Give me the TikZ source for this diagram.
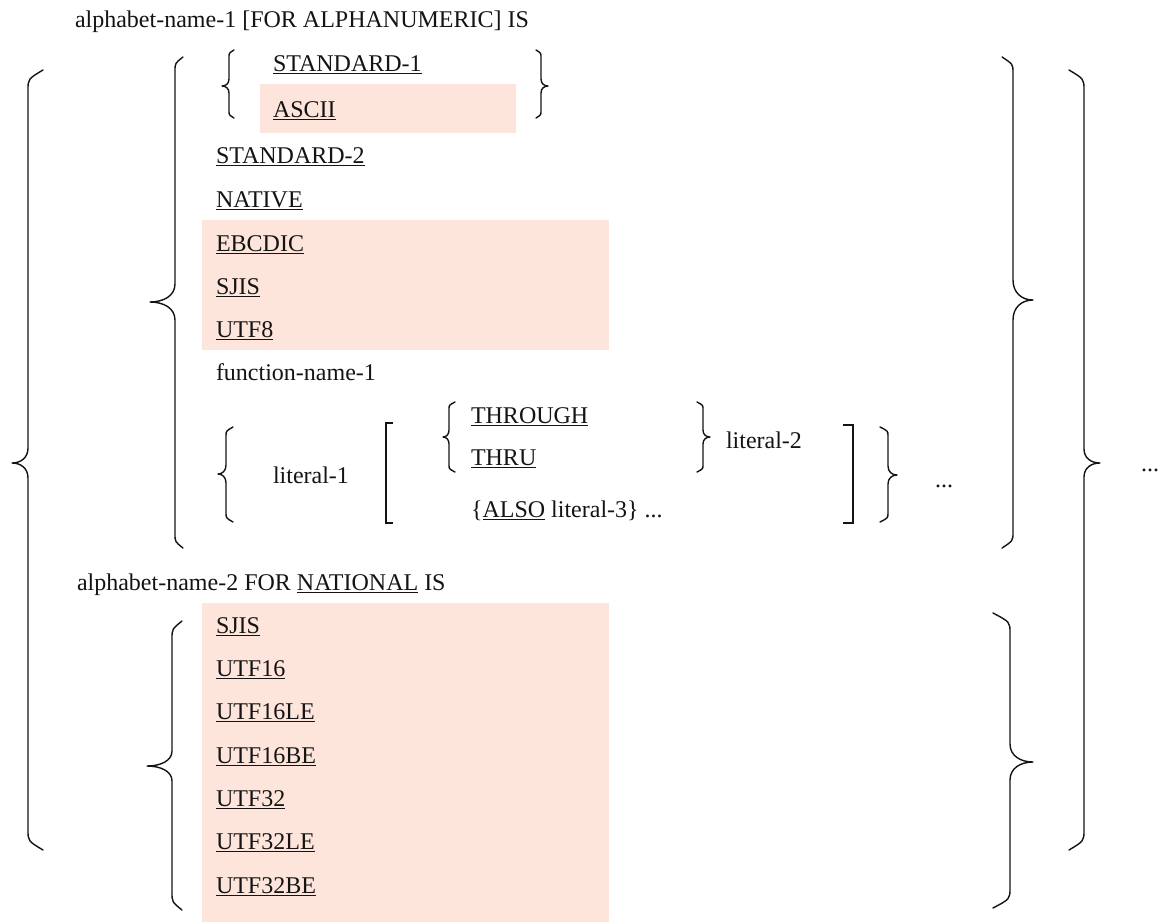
\documentclass[tikz,border=0pt]{standalone}
\usepackage{fontspec}
\setmainfont{Liberation Serif}
\definecolor{peach}{RGB}{253,229,219}
\definecolor{ink}{RGB}{20,20,20}
\newsavebox{\ULbox}
\newcommand{\UL}[1]{\sbox{\ULbox}{#1}\rlap{\rule[-3.4pt]{\wd\ULbox}{1.2pt}}\usebox{\ULbox}}
\tikzset{
  txt/.style={anchor=base west, inner sep=0pt, outer sep=0pt, font=\fontsize{24}{28}\selectfont, text=ink},
  brc/.style={draw=ink, line width=1.4pt, line join=round, line cap=round},
  brk/.style={draw=ink, line width=2.6pt},
  hl/.style={fill=peach, draw=none},
}
% #1 vertical x, #2 end x, #3 top y, #4 bottom y, #5 tip x, #6 tip y, #7 curl height, #8 half tip height
\newcommand{\Brace}[8]{%
  \draw[brc] (#2,#3) .. controls (#1,#3+0.45*#7) .. (#1,#3+#7)
    -- (#1,#6-#8) .. controls (#1,#6-0.35*#8) and (#5+0.55*#1-0.55*#5,#6) .. (#5,#6)
    .. controls (#5+0.55*#1-0.55*#5,#6) and (#1,#6+0.35*#8) .. (#1,#6+#8)
    -- (#1,#4-#7) .. controls (#1,#4-0.45*#7) .. (#2,#4);
}
\begin{document}
\begin{tikzpicture}[x=1pt,y=-1pt]
\useasboundingbox (0,0) rectangle (1165,922);
\fill[white] (0,0) rectangle (1165,922);
% highlights
\path[hl] (260,84) rectangle (516,133);
\path[hl] (202,220) rectangle (609,350);
\path[hl] (202,603) rectangle (609,922);
% texts
\node[txt] (t1) at (75,27) {alphabet-name-1 [FOR ALPHANUMERIC] IS};
\node[txt] (s1) at (273,71) {\UL{STANDARD-1}};
\node[txt] (ascii) at (273,117) {\UL{ASCII}};
\node[txt] (s2) at (216,163) {\UL{STANDARD-2}};
\node[txt] (native) at (216,207) {\UL{NATIVE}};
\node[txt] (ebcdic) at (216,251) {\UL{EBCDIC}};
\node[txt] (sjisa) at (216,294) {\UL{SJIS}};
\node[txt] (utf8) at (216,337) {\UL{UTF8}};
\node[txt] (fn) at (216,380) {function-name-1};
\node[txt] (lit1) at (273,483) {literal-1};
\node[txt] (through) at (471,423) {\UL{THROUGH}};
\node[txt] (thru) at (471,465) {\UL{THRU}};
\node[txt] (also) at (471,517) {\{\UL{ALSO} literal-3\} ...};
\node[txt] (lit2) at (726,448) {literal-2};
\node[txt] (dotsa) at (935,487) {...};
\node[txt] (dotsb) at (1141,471) {...};
\node[txt] (t2) at (77,590) {alphabet-name-2 FOR \UL{NATIONAL} IS};
\node[txt] (sjisb) at (216,633) {\UL{SJIS}};
\node[txt] (u16) at (216,676) {\UL{UTF16}};
\node[txt] (u16le) at (216,719) {\UL{UTF16LE}};
\node[txt] (u16be) at (216,763) {\UL{UTF16BE}};
\node[txt] (u32) at (216,806) {\UL{UTF32}};
\node[txt] (u32le) at (216,849) {\UL{UTF32LE}};
\node[txt] (u32be) at (216,893) {\UL{UTF32BE}};
% braces
\Brace{28}{43}{70}{850}{12}{463}{20}{15}
\Brace{175}{183}{57}{548}{150}{302}{14}{18}
\Brace{172}{182}{621}{910}{147}{766}{18}{15}
\Brace{229}{234}{50}{118}{222}{86}{7}{7}
\Brace{226}{233}{427}{522}{218}{474}{9}{9}
\Brace{449}{455}{402}{472}{443}{437}{7}{7}
\Brace{541}{536}{50}{118}{548}{86}{7}{7}
\Brace{703}{697}{402}{472}{710}{437}{7}{7}
\Brace{888}{880}{427}{522}{897}{475}{9}{9}
\Brace{1013}{1002}{57}{548}{1033}{300}{16}{20}
\Brace{1084}{1069}{70}{850}{1100}{463}{20}{14}
\Brace{1010}{993}{613}{908}{1033}{762}{20}{18}
% brackets
\draw[brk] (393,423) -- (386,423) -- (386,523) -- (393,523);
\draw[brk] (843,425) -- (853,425) -- (853,523) -- (843,523);
\end{tikzpicture}
\end{document}
